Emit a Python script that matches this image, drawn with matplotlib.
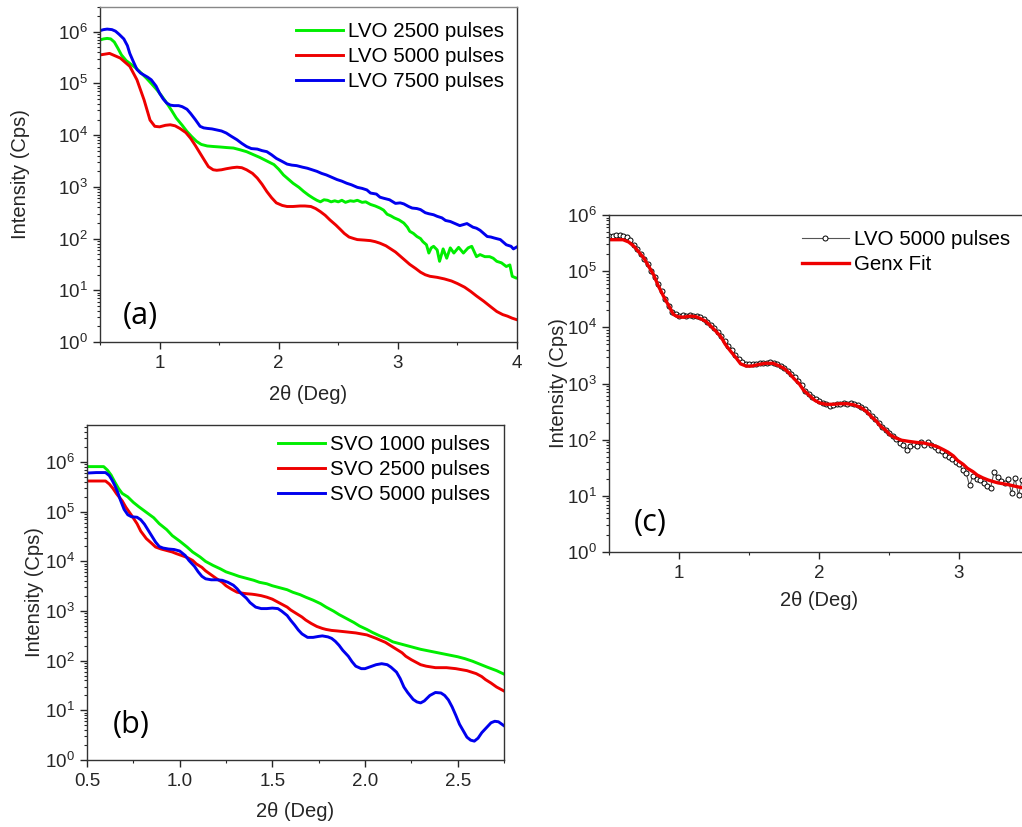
import numpy as np
import matplotlib
matplotlib.use("Agg")
import matplotlib.pyplot as plt
from matplotlib.ticker import LogLocator, NullFormatter, MultipleLocator, FormatStrFormatter

plt.rcParams['font.family'] = ['Liberation Sans', 'DejaVu Sans']
plt.rcParams['mathtext.default'] = 'regular'

# ---- panel (a): LVO films, values read as log10(intensity) ----
lvo2500_x = [0.50, 0.53, 0.56, 0.59, 0.62, 0.65, 0.68, 0.72, 0.76, 0.81, 0.85, 0.89, 0.93, 0.98,
             1.02, 1.06, 1.10, 1.14, 1.19, 1.23, 1.27, 1.31, 1.35, 1.40, 1.45, 1.51, 1.56, 1.62,
             1.67, 1.73, 1.78, 1.84, 1.90, 1.96, 2.00, 2.04, 2.08, 2.12, 2.17, 2.21, 2.25, 2.29,
             2.32, 2.35, 2.38, 2.41, 2.44, 2.47, 2.50, 2.53, 2.56, 2.60, 2.63, 2.66, 2.70, 2.73,
             2.77, 2.81, 2.85, 2.88, 2.91, 2.94, 2.97, 3.01, 3.05, 3.08, 3.10, 3.13, 3.16, 3.19,
             3.21, 3.24, 3.26, 3.28, 3.30, 3.33, 3.35, 3.38, 3.41, 3.44, 3.47, 3.51, 3.55, 3.59,
             3.62, 3.66, 3.69, 3.73, 3.77, 3.80, 3.83, 3.87, 3.91, 3.94, 3.96, 3.99]
lvo2500_log = [5.84, 5.86, 5.87, 5.86, 5.80, 5.68, 5.55, 5.44, 5.37, 5.28, 5.19, 5.10, 5.00, 4.87,
               4.75, 4.62, 4.48, 4.33, 4.19, 4.07, 3.97, 3.88, 3.82, 3.79, 3.78, 3.77, 3.76, 3.75,
               3.72, 3.68, 3.63, 3.57, 3.50, 3.43, 3.34, 3.23, 3.15, 3.07, 2.99, 2.91, 2.84, 2.78,
               2.74, 2.71, 2.75, 2.74, 2.71, 2.73, 2.71, 2.74, 2.70, 2.73, 2.72, 2.74, 2.70, 2.71,
               2.66, 2.63, 2.59, 2.55, 2.47, 2.44, 2.40, 2.36, 2.30, 2.22, 2.14, 2.10, 2.04, 2.00,
               1.94, 1.88, 1.72, 1.82, 1.85, 1.78, 1.56, 1.80, 1.62, 1.82, 1.72, 1.83, 1.72, 1.82,
               1.85, 1.65, 1.69, 1.65, 1.65, 1.62, 1.56, 1.53, 1.46, 1.49, 1.27, 1.24]

lvo5000_x = [0.50, 0.58, 0.67, 0.75, 0.81, 0.87, 0.92, 0.96, 1.00, 1.05, 1.09, 1.13, 1.17, 1.22,
             1.26, 1.30, 1.34, 1.38, 1.41, 1.45, 1.48, 1.52, 1.56, 1.61, 1.65, 1.69, 1.73, 1.78,
             1.82, 1.86, 1.90, 1.94, 1.98, 2.03, 2.07, 2.12, 2.18, 2.22, 2.27, 2.31, 2.35, 2.39,
             2.43, 2.48, 2.52, 2.55, 2.59, 2.63, 2.66, 2.72, 2.77, 2.81, 2.85, 2.90, 2.94, 2.98,
             3.02, 3.06, 3.10, 3.15, 3.19, 3.23, 3.27, 3.33, 3.39, 3.45, 3.50, 3.56, 3.61, 3.66,
             3.72, 3.78, 3.83, 3.88, 3.92, 3.96, 4.00]
lvo5000_log = [5.55, 5.58, 5.49, 5.33, 5.07, 4.68, 4.29, 4.17, 4.16, 4.19, 4.20, 4.18, 4.13, 4.05,
               3.94, 3.80, 3.65, 3.50, 3.39, 3.33, 3.32, 3.33, 3.35, 3.37, 3.38, 3.37, 3.33, 3.26,
               3.17, 3.05, 2.91, 2.79, 2.69, 2.64, 2.62, 2.62, 2.63, 2.63, 2.62, 2.58, 2.52, 2.45,
               2.36, 2.26, 2.17, 2.10, 2.03, 2.00, 1.98, 1.97, 1.96, 1.94, 1.91, 1.86, 1.80, 1.74,
               1.66, 1.58, 1.50, 1.42, 1.35, 1.30, 1.27, 1.25, 1.22, 1.18, 1.13, 1.06, 0.98, 0.89,
               0.79, 0.68, 0.59, 0.53, 0.50, 0.46, 0.43]

lvo7500_x = [0.50, 0.53, 0.56, 0.60, 0.63, 0.66, 0.70, 0.73, 0.75, 0.78, 0.81, 0.84, 0.87, 0.90,
             0.93, 0.97, 1.00, 1.03, 1.06, 1.09, 1.12, 1.16, 1.19, 1.23, 1.26, 1.30, 1.34, 1.37,
             1.40, 1.44, 1.48, 1.52, 1.56, 1.60, 1.65, 1.69, 1.73, 1.77, 1.82, 1.86, 1.90, 1.94,
             1.98, 2.03, 2.07, 2.11, 2.15, 2.20, 2.24, 2.28, 2.32, 2.36, 2.40, 2.45, 2.49, 2.53,
             2.57, 2.61, 2.66, 2.70, 2.74, 2.77, 2.82, 2.85, 2.88, 2.93, 2.98, 3.02, 3.05, 3.09,
             3.12, 3.16, 3.19, 3.23, 3.26, 3.30, 3.33, 3.37, 3.40, 3.44, 3.47, 3.52, 3.55, 3.58,
             3.63, 3.66, 3.69, 3.72, 3.75, 3.78, 3.81, 3.86, 3.89, 3.91, 3.95, 3.97, 4.00]
lvo7500_log = [6.02, 6.04, 6.05, 6.04, 6.01, 5.95, 5.86, 5.73, 5.58, 5.42, 5.27, 5.20, 5.16, 5.12,
               5.07, 4.95, 4.81, 4.70, 4.62, 4.58, 4.57, 4.57, 4.55, 4.50, 4.42, 4.30, 4.17, 4.14,
               4.13, 4.12, 4.10, 4.08, 4.04, 3.98, 3.91, 3.84, 3.78, 3.74, 3.73, 3.70, 3.68, 3.62,
               3.55, 3.49, 3.44, 3.42, 3.41, 3.38, 3.36, 3.33, 3.30, 3.26, 3.23, 3.18, 3.14, 3.11,
               3.07, 3.04, 2.99, 2.97, 2.94, 2.88, 2.86, 2.80, 2.78, 2.75, 2.68, 2.69, 2.67, 2.62,
               2.59, 2.58, 2.56, 2.50, 2.48, 2.46, 2.43, 2.40, 2.35, 2.33, 2.30, 2.25, 2.27, 2.29,
               2.22, 2.20, 2.16, 2.10, 2.04, 2.03, 2.01, 1.98, 1.92, 1.88, 1.85, 1.80, 1.84]

# ---- panel (b): SVO films ----
svo1000_x = [0.50, 0.55, 0.59, 0.61, 0.63, 0.65, 0.67, 0.69, 0.72, 0.75, 0.78, 0.82, 0.86, 0.89,
             0.93, 0.96, 1.00, 1.04, 1.07, 1.11, 1.14, 1.18, 1.22, 1.25, 1.29, 1.32, 1.36, 1.40,
             1.43, 1.47, 1.50, 1.54, 1.58, 1.61, 1.65, 1.68, 1.72, 1.76, 1.79, 1.83, 1.86, 1.90,
             1.94, 1.97, 2.01, 2.04, 2.08, 2.12, 2.15, 2.19, 2.22, 2.26, 2.30, 2.34, 2.38, 2.42,
             2.46, 2.50, 2.54, 2.58, 2.62, 2.66, 2.71, 2.75]
svo1000_log = [5.91, 5.91, 5.91, 5.84, 5.74, 5.60, 5.47, 5.37, 5.30, 5.19, 5.10, 4.99, 4.88, 4.76,
               4.64, 4.52, 4.41, 4.29, 4.19, 4.09, 4.00, 3.92, 3.85, 3.79, 3.74, 3.70, 3.66, 3.62,
               3.58, 3.55, 3.51, 3.47, 3.43, 3.38, 3.33, 3.28, 3.22, 3.15, 3.08, 3.00, 2.93, 2.85,
               2.77, 2.70, 2.63, 2.57, 2.50, 2.44, 2.38, 2.34, 2.31, 2.27, 2.23, 2.20, 2.17, 2.14,
               2.11, 2.08, 2.04, 1.99, 1.93, 1.87, 1.80, 1.73]

svo2500_x = [0.50, 0.55, 0.60, 0.62, 0.64, 0.66, 0.69, 0.71, 0.74, 0.77, 0.79, 0.82, 0.85, 0.87,
             0.90, 0.93, 0.96, 0.98, 1.01, 1.04, 1.07, 1.09, 1.12, 1.14, 1.17, 1.20, 1.23, 1.25,
             1.28, 1.31, 1.34, 1.36, 1.39, 1.41, 1.44, 1.47, 1.50, 1.52, 1.55, 1.58, 1.60, 1.63,
             1.66, 1.68, 1.71, 1.74, 1.77, 1.79, 1.82, 1.85, 1.90, 1.95, 2.01, 2.06, 2.11, 2.14,
             2.17, 2.20, 2.22, 2.25, 2.28, 2.30, 2.33, 2.38, 2.44, 2.49, 2.55, 2.60, 2.63, 2.65,
             2.68, 2.71, 2.73, 2.75]
svo2500_log = [5.62, 5.62, 5.62, 5.56, 5.47, 5.36, 5.22, 5.09, 4.93, 4.76, 4.61, 4.46, 4.36, 4.29,
               4.25, 4.22, 4.19, 4.16, 4.12, 4.08, 4.02, 3.95, 3.88, 3.81, 3.73, 3.65, 3.58, 3.51,
               3.44, 3.38, 3.36, 3.35, 3.34, 3.33, 3.31, 3.28, 3.24, 3.20, 3.14, 3.08, 3.02, 2.95,
               2.88, 2.82, 2.75, 2.69, 2.65, 2.63, 2.61, 2.60, 2.58, 2.56, 2.52, 2.45, 2.37, 2.30,
               2.23, 2.16, 2.09, 2.02, 1.96, 1.92, 1.89, 1.86, 1.86, 1.84, 1.80, 1.74, 1.68, 1.62,
               1.55, 1.47, 1.43, 1.39]

svo5000_x = [0.50, 0.55, 0.60, 0.62, 0.635, 0.65, 0.665, 0.68, 0.70, 0.72, 0.74, 0.77, 0.79, 0.81,
             0.83, 0.85, 0.87, 0.89, 0.91, 0.94, 0.97, 1.00, 1.03, 1.05, 1.08, 1.10, 1.12, 1.14,
             1.17, 1.20, 1.23, 1.26, 1.29, 1.31, 1.33, 1.36, 1.38, 1.41, 1.44, 1.47, 1.50, 1.53,
             1.55, 1.58, 1.60, 1.62, 1.64, 1.66, 1.69, 1.72, 1.75, 1.77, 1.80, 1.82, 1.84, 1.86,
             1.88, 1.91, 1.93, 1.95, 1.98, 2.00, 2.03, 2.06, 2.09, 2.12, 2.14, 2.17, 2.19, 2.21,
             2.23, 2.26, 2.28, 2.30, 2.32, 2.35, 2.38, 2.41, 2.43, 2.45, 2.47, 2.49, 2.51, 2.53,
             2.55, 2.57, 2.59, 2.61, 2.63, 2.66, 2.68, 2.70, 2.72, 2.75]
svo5000_log = [5.78, 5.79, 5.79, 5.73, 5.64, 5.53, 5.40, 5.24, 5.05, 4.94, 4.90, 4.89, 4.84, 4.75,
               4.63, 4.51, 4.39, 4.30, 4.27, 4.25, 4.24, 4.21, 4.12, 4.02, 3.90, 3.79, 3.70, 3.65,
               3.63, 3.63, 3.62, 3.58, 3.52, 3.45, 3.36, 3.26, 3.17, 3.08, 3.05, 3.05, 3.06, 3.05,
               3.00, 2.91, 2.81, 2.72, 2.62, 2.54, 2.47, 2.47, 2.49, 2.50, 2.48, 2.45, 2.39, 2.31,
               2.21, 2.09, 1.98, 1.89, 1.84, 1.84, 1.88, 1.92, 1.94, 1.92, 1.87, 1.77, 1.64, 1.47,
               1.36, 1.22, 1.17, 1.15, 1.19, 1.30, 1.36, 1.35, 1.30, 1.21, 1.07, 0.90, 0.72, 0.59,
               0.46, 0.40, 0.38, 0.44, 0.55, 0.67, 0.75, 0.78, 0.77, 0.69]

# ---- panel (c): LVO 5000 data and GenX fit ----
data_x = [0.500, 0.525, 0.550, 0.575, 0.600, 0.625, 0.650, 0.675, 0.700, 0.725, 0.750, 0.775,
          0.800, 0.825, 0.850, 0.875, 0.900, 0.925, 0.950, 0.975, 1.000, 1.025, 1.050, 1.075,
          1.100, 1.125, 1.150, 1.175, 1.200, 1.225, 1.250, 1.275, 1.300, 1.325, 1.350, 1.375,
          1.400, 1.425, 1.450, 1.475, 1.500, 1.525, 1.550, 1.575, 1.600, 1.625, 1.650, 1.675,
          1.700, 1.725, 1.750, 1.775, 1.800, 1.825, 1.850, 1.875, 1.900, 1.925, 1.950, 1.975,
          2.000, 2.025, 2.050, 2.075, 2.100, 2.125, 2.150, 2.175, 2.200, 2.225, 2.250, 2.275,
          2.300, 2.325, 2.350, 2.375, 2.400, 2.425, 2.450, 2.475, 2.500, 2.525, 2.550, 2.575,
          2.600, 2.625, 2.650, 2.675, 2.700, 2.725, 2.750, 2.775, 2.800, 2.825, 2.850, 2.875,
          2.900, 2.925, 2.950, 2.975, 3.000, 3.025, 3.050, 3.075, 3.100, 3.125, 3.150, 3.175,
          3.200, 3.225, 3.250, 3.275, 3.300, 3.325, 3.350, 3.375, 3.400, 3.425, 3.450, 3.475,
          3.500]
data_log = [5.62, 5.63, 5.64, 5.64, 5.63, 5.60, 5.55, 5.47, 5.40, 5.31, 5.22, 5.12,
            5.01, 4.89, 4.77, 4.64, 4.50, 4.38, 4.28, 4.23, 4.21, 4.22, 4.21, 4.22,
            4.21, 4.20, 4.18, 4.15, 4.10, 4.05, 3.99, 3.92, 3.85, 3.76, 3.67, 3.59,
            3.51, 3.44, 3.38, 3.35, 3.34, 3.34, 3.35, 3.36, 3.37, 3.36, 3.38, 3.36,
            3.35, 3.32, 3.28, 3.22, 3.17, 3.11, 3.04, 2.97, 2.86, 2.82, 2.76, 2.72,
            2.68, 2.66, 2.63, 2.60, 2.62, 2.64, 2.63, 2.65, 2.64, 2.66, 2.63, 2.62,
            2.58, 2.54, 2.49, 2.42, 2.36, 2.29, 2.22, 2.17, 2.12, 2.06, 2.02, 1.94,
            1.90, 1.81, 1.88, 1.92, 1.88, 1.95, 1.91, 1.96, 1.90, 1.87, 1.82, 1.79,
            1.72, 1.70, 1.66, 1.60, 1.57, 1.46, 1.41, 1.19, 1.35, 1.30, 1.28, 1.22,
            1.18, 1.14, 1.42, 1.33, 1.27, 1.22, 1.30, 1.05, 1.32, 1.01, 1.28, 1.20,
            1.25]

fit_x = [0.50, 0.55, 0.60, 0.64, 0.68, 0.71, 0.75, 0.78, 0.82, 0.85, 0.89, 0.93, 0.96, 0.99,
         1.03, 1.08, 1.12, 1.15, 1.19, 1.22, 1.26, 1.30, 1.33, 1.37, 1.41, 1.44, 1.48, 1.52,
         1.57, 1.62, 1.67, 1.71, 1.75, 1.79, 1.82, 1.86, 1.89, 1.93, 1.97, 2.01, 2.05, 2.10,
         2.15, 2.20, 2.25, 2.30, 2.34, 2.37, 2.41, 2.44, 2.48, 2.51, 2.55, 2.59, 2.64, 2.70,
         2.75, 2.80, 2.85, 2.89, 2.92, 2.96, 2.99, 3.03, 3.06, 3.10, 3.13, 3.17, 3.21, 3.25,
         3.28, 3.35, 3.42, 3.50]
fit_log = [5.56, 5.56, 5.56, 5.52, 5.44, 5.35, 5.23, 5.10, 4.93, 4.75, 4.55, 4.37, 4.23, 4.19,
           4.18, 4.20, 4.19, 4.16, 4.11, 4.04, 3.94, 3.83, 3.70, 3.57, 3.45, 3.35, 3.31, 3.31,
           3.34, 3.36, 3.36, 3.32, 3.27, 3.18, 3.09, 2.99, 2.88, 2.79, 2.70, 2.65, 2.63, 2.63,
           2.64, 2.64, 2.62, 2.57, 2.50, 2.42, 2.33, 2.24, 2.16, 2.08, 2.03, 1.99, 1.97, 1.95,
           1.94, 1.91, 1.87, 1.82, 1.78, 1.71, 1.63, 1.56, 1.49, 1.43, 1.37, 1.32, 1.28, 1.25,
           1.23, 1.20, 1.16, 1.12]

green = '#00ee00'
red = '#ee0000'
blue = '#0000ee'
ink = '#262626'

W, H = 1022, 827
fig = plt.figure(figsize=(W / 100, H / 100), dpi=100)


def add_axes(left, top, right, bottom):
    return fig.add_axes([left / W, 1 - bottom / H, (right - left) / W, (bottom - top) / H])


def style(ax, xlim, ylim, major, minor):
    ax.set_yscale('log')
    ax.set_xlim(*xlim)
    ax.set_ylim(*ylim)
    ax.xaxis.set_major_locator(MultipleLocator(major))
    ax.xaxis.set_minor_locator(MultipleLocator(minor))
    ax.yaxis.set_major_locator(LogLocator(base=10, numticks=20))
    ax.yaxis.set_minor_locator(LogLocator(base=10, subs=np.arange(2, 10), numticks=20))
    ax.yaxis.set_minor_formatter(NullFormatter())
    ax.tick_params(which='major', direction='out', length=5, width=1, colors=ink,
                   labelsize=13.5, pad=4, top=False, right=False)
    ax.tick_params(which='minor', direction='out', length=2.5, width=0.8, colors=ink,
                   top=False, right=False)
    for s in ax.spines.values():
        s.set_color('#333333')
        s.set_linewidth(1)
    ax.set_xlabel('2θ (Deg)', fontsize=14.5, color=ink)
    ax.set_ylabel('Intensity (Cps)', fontsize=14.5, color=ink)


def legend(ax, anchor):
    ax.legend(loc='upper right', bbox_to_anchor=anchor, frameon=False, fontsize=14.8,
              handlelength=2.3, handletextpad=0.25, labelspacing=0.3, borderpad=0,
              borderaxespad=0)


# (a)
axa = add_axes(100, 7, 517, 342)
axa.plot(lvo2500_x, 10 ** np.array(lvo2500_log), color=green, lw=2.1, label='LVO 2500 pulses')
axa.plot(lvo5000_x, 10 ** np.array(lvo5000_log), color=red, lw=2.1, label='LVO 5000 pulses')
axa.plot(lvo7500_x, 10 ** np.array(lvo7500_log), color=blue, lw=2.1, label='LVO 7500 pulses')
style(axa, (0.5, 4), (1, 3.0e6), 1, 0.5)
axa.spines['top'].set_color('#888888')
axa.xaxis.set_label_coords(0.5, -0.158)
axa.yaxis.set_label_coords(-0.19, 0.5)
legend(axa, (0.97, 0.955))

# (b)
axb = add_axes(87, 425, 504, 760)
axb.plot(svo1000_x, 10 ** np.array(svo1000_log), color=green, lw=2.1, label='SVO 1000 pulses')
axb.plot(svo2500_x, 10 ** np.array(svo2500_log), color=red, lw=2.1, label='SVO 2500 pulses')
axb.plot(svo5000_x, 10 ** np.array(svo5000_log), color=blue, lw=2.1, label='SVO 5000 pulses')
style(axb, (0.5, 2.75), (1, 5.6e6), 0.5, 0.25)
axb.xaxis.set_major_formatter(FormatStrFormatter('%.1f'))
axb.xaxis.set_label_coords(0.5, -0.155)
axb.yaxis.set_label_coords(-0.127, 0.5)
legend(axb, (0.967, 0.97))

# (c)  right edge lies just outside the picture, as in the reference
axc = add_axes(609, 215, 1029, 552)
axc.plot(data_x, 10 ** np.array(data_log), color='#555555', lw=0.8, marker='o', ms=3.6,
         mfc='white', mec='black', mew=0.7, label='LVO 5000 pulses')
axc.plot(fit_x, 10 ** np.array(fit_log), color=red, lw=2.4, label='Genx Fit')
style(axc, (0.5, 3.5), (1, 1e6), 1, 0.5)
axc.xaxis.set_label_coords(0.5, -0.145)
axc.yaxis.set_label_coords(-0.121, 0.5)
legend(axc, (0.955, 0.955))

for ax in (axa, axb, axc):
    ax.xaxis.label.set_va('center')
    ax.yaxis.label.set_va('center')

# panel tags
for tag, px, py in [('(a)', 140, 316), ('(b)', 131, 725), ('(c)', 650, 523)]:
    fig.text(px / W, 1 - py / H, tag, family='Open Sans', fontsize=22, color='black',
             ha='center', va='center')

fig.savefig('out.png', dpi=100)
